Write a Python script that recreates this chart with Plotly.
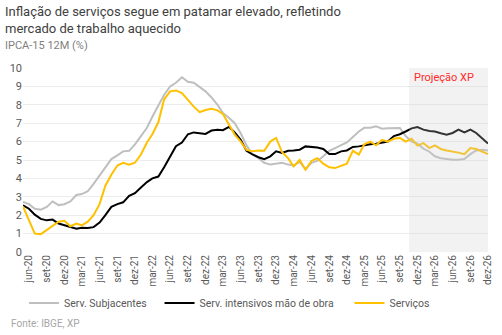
import pandas as pd
import plotly.graph_objects as go

# ---- data (IPCA-15 12M, %), monthly from mai-20 to dez-26 ----
months = pd.date_range("2020-05-01", "2026-12-01", freq="MS")

serv_subjacentes = [
    2.72, 2.60, 2.35, 2.30, 2.45, 2.75, 2.55, 2.60, 2.75, 3.10,
    3.15, 3.30, 3.70, 4.15, 4.60, 5.05, 5.25, 5.47, 5.50, 5.85,
    6.30, 6.75, 7.35, 7.95, 8.55, 9.00, 9.20, 9.50, 9.25, 9.20,
    8.95, 8.73, 8.40, 8.00, 7.55, 7.30, 7.00, 6.45, 5.80, 5.30,
    5.10, 4.85, 4.75, 4.80, 4.85, 4.75, 4.70, 4.90, 4.50, 4.85,
    4.95, 5.20, 5.50, 5.65, 5.80, 5.95, 6.25, 6.55, 6.75, 6.75,
    6.83, 6.70, 6.72, 6.74, 6.74, 6.30, 6.00, 5.89, 5.62, 5.45,
    5.20, 5.10, 5.05, 5.02, 5.02, 5.05, 5.32, 5.52, 5.56, 5.52,
]

serv_intensivos = [
    2.54, 2.35, 2.03, 1.80, 1.72, 1.76, 1.55, 1.45, 1.35, 1.27,
    1.32, 1.30, 1.35, 1.60, 2.00, 2.45, 2.60, 2.70, 3.05, 3.20,
    3.50, 3.80, 4.00, 4.10, 4.60, 5.20, 5.75, 5.95, 6.40, 6.50,
    6.45, 6.42, 6.60, 6.65, 6.62, 6.80, 6.50, 6.10, 5.50, 5.30,
    5.15, 5.05, 5.20, 5.47, 5.38, 5.50, 5.52, 5.56, 5.74, 5.72,
    5.68, 5.60, 5.32, 5.32, 5.47, 5.52, 5.71, 5.74, 5.80, 5.85,
    5.88, 5.92, 6.00, 6.30, 6.40, 6.55, 6.72, 6.79, 6.65, 6.58,
    6.55, 6.45, 6.38, 6.47, 6.65, 6.50, 6.65, 6.47, 6.20, 5.89,
]

servicos = [
    2.48, 1.75, 1.00, 0.97, 1.20, 1.45, 1.65, 1.70, 1.40, 1.55,
    1.45, 1.65, 2.00, 2.60, 3.60, 4.20, 4.70, 4.85, 4.75, 4.85,
    5.30, 5.95, 6.40, 7.05, 8.30, 8.73, 8.78, 8.64, 8.25, 7.90,
    7.60, 7.72, 7.78, 7.70, 7.50, 6.95, 6.38, 6.00, 5.55, 5.47,
    5.52, 5.50, 6.00, 6.20, 5.42, 5.10, 4.65, 5.00, 4.47, 4.95,
    5.10, 4.80, 4.60, 4.56, 4.70, 4.80, 5.50, 5.30, 5.85, 6.00,
    5.80, 6.10, 6.00, 6.15, 6.20, 6.00, 6.15, 5.78, 5.92, 5.65,
    5.80, 5.60, 5.52, 5.47, 5.40, 5.32, 5.65, 5.60, 5.47, 5.32,
]

tick_dates = pd.date_range("2020-06-01", "2026-12-01", freq="3MS")
tick_labels = [
    "jun-20", "set-20", "dez-20", "mar-21", "jun-21", "set-21", "dez-21",
    "mar-22", "jun-22", "set-22", "dez-22", "mar-23", "jun-23", "set-23",
    "dez-23", "mar-24", "jun-24", "set-24", "dez-24", "mar-25", "jun-25",
    "set-25", "dez-25", "mar-26", "jun-26", "set-26", "dez-26",
]
y_ticks = list(range(0, 11))

proj_start = "2025-10-19"
proj_end = "2026-12-01"

# ---- layout geometry (px) ----
W, H = 502, 335
L, R, T, B = 23, 9, 68, 83
PW, PH = W - L - R, H - T - B


def px(x, y):
    return (x - L) / PW, (H - B - y) / PH


FONT = "Roboto"
TXT = "#595959"

fig = go.Figure()
series = [
    ("Serv. Subjacentes", serv_subjacentes, "#BFBFBF", "legend"),
    ("Serv. intensivos mão de obra", serv_intensivos, "#000000", "legend2"),
    ("Serviços", servicos, "#FFC000", "legend3"),
]
for name, vals, col, lg in series:
    fig.add_trace(go.Scatter(
        x=months, y=vals, name=name, mode="lines",
        line=dict(color=col, width=2), legend=lg,
    ))

fig.add_shape(type="rect", xref="x", yref="y domain",
              x0=proj_start, x1=proj_end, y0=0, y1=1,
              fillcolor="rgba(204,204,204,0.25)", line_width=0, layer="above")

legend_common = dict(orientation="h", font=dict(family=FONT, size=10.5, color=TXT),
                     bgcolor="rgba(0,0,0,0)", itemwidth=30, yanchor="middle",
                     xanchor="left")
lx1, ly = px(24, 303)
lx2, _ = px(161, 303)
lx3, _ = px(353, 303)

ann = []
a = px(3, 2)
ann.append(dict(x=a[0], y=a[1], xref="paper", yref="paper", xanchor="left", yanchor="top",
                align="left", showarrow=False,
                text="Inflação de serviços segue em patamar elevado, refletindo<br>mercado de trabalho aquecido",
                font=dict(family=FONT, size=13, color="#404040")))
a = px(3, 45)
ann.append(dict(x=a[0], y=a[1], xref="paper", yref="paper", xanchor="left", yanchor="middle",
                showarrow=False, text="IPCA-15 12M (%)",
                font=dict(family=FONT, size=11, color="#7F7F7F")))
a = px(9, 323)
ann.append(dict(x=a[0], y=a[1], xref="paper", yref="paper", xanchor="left", yanchor="middle",
                showarrow=False, text="Fonte: IBGE, XP",
                font=dict(family=FONT, size=10, color="#A6A6A6")))
a = px(449, 77)
ann.append(dict(x=a[0], y=a[1], xref="paper", yref="paper", xanchor="center", yanchor="middle",
                showarrow=False, text="Projeção XP",
                font=dict(family=FONT, size=11, color="#FF2A2A")))

fig.update_layout(
    width=W, height=H,
    margin=dict(l=L, r=R, t=T, b=B, pad=0),
    paper_bgcolor="white", plot_bgcolor="white",
    font=dict(family=FONT, color=TXT),
    showlegend=True,
    legend=dict(x=lx1, y=ly, **legend_common),
    legend2=dict(x=lx2, y=ly, **legend_common),
    legend3=dict(x=lx3, y=ly, **legend_common),
    annotations=ann,
    xaxis=dict(range=[months[0], months[-1]], tickvals=tick_dates, ticktext=tick_labels,
               tickangle=-90, showgrid=False, zeroline=False, showline=False,
               tickfont=dict(family=FONT, size=10, color=TXT), ticks=""),
    yaxis=dict(range=[0, 10], tickvals=y_ticks, showgrid=True, gridcolor="#ECECEC",
               gridwidth=1, zeroline=False, showline=False,
               tickfont=dict(family=FONT, size=11, color=TXT), ticks=""),
)

fig.write_html("out.html")
